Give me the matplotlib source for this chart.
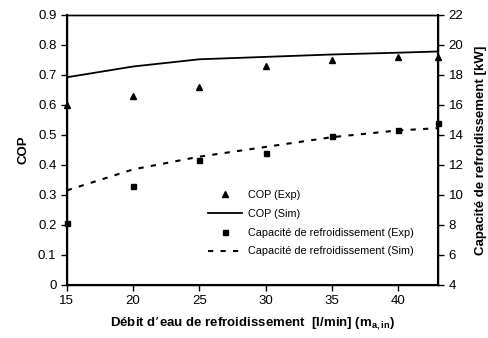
import matplotlib
matplotlib.use("Agg")
import matplotlib.pyplot as plt

plt.rcParams["font.family"] = ["Liberation Sans", "DejaVu Sans"]

debit = [15, 20, 25, 30, 35, 40, 43]
cop_exp = [0.600, 0.630, 0.658, 0.728, 0.750, 0.758, 0.760]
cop_sim = [0.692, 0.728, 0.752, 0.760, 0.768, 0.774, 0.778]
cap_exp = [8.1, 10.6, 12.3, 12.8, 13.9, 14.3, 14.8]
cap_sim = [10.3, 11.7, 12.55, 13.2, 13.85, 14.3, 14.45]


def main():
    fig = plt.figure(figsize=(4.88, 3.38), dpi=100)
    ax = fig.add_axes([0.137, 0.157, 0.761, 0.799])
    ax2 = ax.twinx()

    h1, = ax.plot(debit, cop_exp, linestyle="none", marker="^", color="black",
                  markersize=4.4, label="COP (Exp)", clip_on=False)
    h2, = ax.plot(debit, cop_sim, color="black", linewidth=1.3, label="COP (Sim)")
    h3, = ax2.plot(debit, cap_exp, linestyle="none", marker="s", color="black",
                   markersize=3.6, label="Capacité de refroidissement (Exp)", clip_on=False)
    h4, = ax2.plot(debit, cap_sim, color="black", linewidth=1.5, dashes=(2.5, 3.5),
                   label="Capacité de refroidissement (Sim)")

    ax.set_xlim(15, 43)
    ax.set_ylim(0, 0.9)
    ax2.set_ylim(4, 22)
    ax.set_xticks([15, 20, 25, 30, 35, 40])
    ax.set_yticks([0, 0.1, 0.2, 0.3, 0.4, 0.5, 0.6, 0.7, 0.8, 0.9])
    ax.set_yticklabels(["0", "0.1", "0.2", "0.3", "0.4", "0.5", "0.6", "0.7", "0.8", "0.9"])
    ax2.set_yticks(range(4, 23, 2))

    for a in (ax, ax2):
        a.tick_params(direction="out", length=4, width=1, labelsize=9.5, color="black")
        for s in a.spines.values():
            s.set_linewidth(1)
    ax.spines["left"].set_linewidth(1.5)
    ax.spines["bottom"].set_linewidth(1.5)
    ax2.spines["right"].set_linewidth(1.5)

    ax.set_xlabel("Débit d’eau de refroidissement  [l/min] (m$_{\\mathregular{a,in}}$)",
                  fontsize=9.5, fontweight="bold", labelpad=6)
    ax.set_ylabel("COP", fontsize=9.5, fontweight="bold", labelpad=6)
    ax2.set_ylabel("Capacité de refroidissement [kW]", fontsize=9.5, fontweight="bold", labelpad=8)

    fig.legend(handles=[h1, h2, h3, h4], loc="upper left",
               bbox_to_anchor=(198 / 488, 1 - 180 / 338), frameon=False,
               fontsize=7.8, handlelength=3.2, labelspacing=0.82, handletextpad=0.5)

    fig.savefig("out.png", dpi=100)


if __name__ == "__main__":
    main()
